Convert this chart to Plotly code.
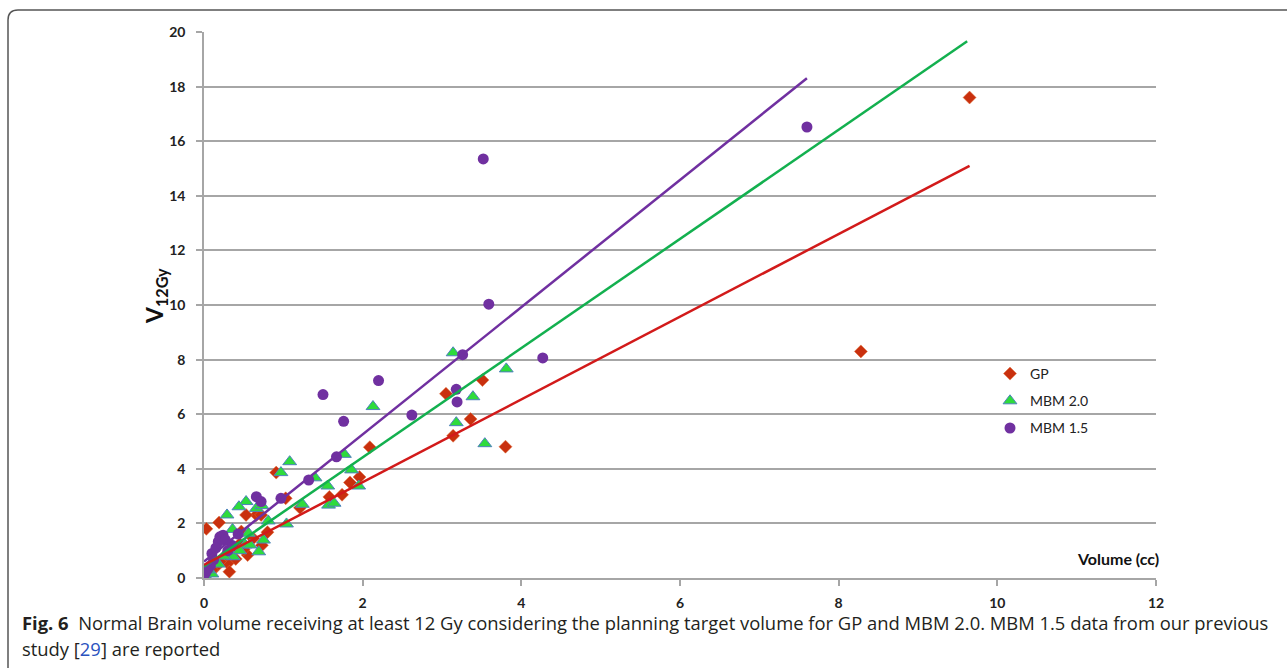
import plotly.graph_objects as go

# ---------------- data ----------------
gp_x = [9.65, 8.28, 3.80, 3.51, 3.05, 3.36, 3.14, 2.09, 1.96, 1.84, 1.74, 1.58, 1.03, 1.21,
        0.91, 0.80, 0.66, 0.72, 0.53, 0.19, 0.03, 0.47, 0.55, 0.73, 0.30, 0.32, 0.40, 0.15,
        0.10, 0.05, 0.28, 0.50, 0.35, 0.20, 0.62, 0.45]
gp_y = [17.60, 8.30, 4.81, 7.25, 6.75, 5.82, 5.21, 4.79, 3.70, 3.50, 3.05, 2.97, 2.92, 2.57,
        3.86, 1.68, 2.31, 2.31, 2.31, 2.03, 1.80, 1.70, 0.84, 1.20, 0.54, 0.23, 0.70, 0.40,
        0.30, 0.15, 0.85, 1.05, 0.95, 0.60, 1.45, 1.25]

mbm20_x = [3.14, 3.81, 3.39, 3.18, 3.54, 2.13, 1.77, 1.08, 0.97, 1.40, 1.86, 1.95, 1.56, 1.57,
           1.64, 1.24, 1.04, 0.81, 0.53, 0.44, 0.66, 0.73, 0.29, 0.36, 0.56, 0.75, 0.52, 0.58,
           0.69, 0.37, 0.18, 0.02, 0.10, 0.05, 0.25, 0.45]
mbm20_y = [8.25, 7.66, 6.64, 5.69, 4.92, 6.28, 4.53, 4.26, 3.86, 3.67, 3.96, 3.37, 3.37, 2.67,
           2.74, 2.70, 1.98, 2.09, 2.80, 2.61, 2.55, 2.65, 2.31, 1.78, 1.64, 1.39, 1.21, 1.21,
           0.96, 0.78, 0.51, 0.05, 0.15, 0.30, 0.80, 1.00]

mbm15_x = [7.60, 3.52, 3.59, 4.27, 3.26, 3.18, 3.19, 2.62, 2.20, 1.50, 1.76, 1.67, 1.32, 0.97,
           0.66, 0.72, 0.43, 0.20, 0.24, 0.18, 0.27, 0.12, 0.10, 0.05, 0.02, 0.08, 0.15, 0.30,
           0.35, 0.00, 0.04]
mbm15_y = [16.52, 15.35, 10.03, 8.06, 8.18, 6.91, 6.45, 5.97, 7.23, 6.72, 5.74, 4.44, 3.59, 2.92,
           2.98, 2.80, 1.61, 1.51, 1.57, 1.33, 1.39, 0.66, 0.90, 0.35, 0.20, 0.45, 1.10, 1.00,
           1.20, 0.10, 0.30]

# linear fits: slope, intercept, x-extent
fit_gp = {"slope": 1.515, "intercept": 0.48, "x_end": 9.65}
fit_mbm20 = {"slope": 2.00, "intercept": 0.42, "x_end": 9.62}
fit_mbm15 = {"slope": 2.33, "intercept": 0.60, "x_end": 7.60}

x_ticks = [0, 2, 4, 6, 8, 10, 12]
y_ticks = [0, 2, 4, 6, 8, 10, 12, 14, 16, 18, 20]

# ---------------- styles ----------------
RED_M = "#C9300E"
RED_L = "#D21A1A"
GREEN_M = "#2EDB3C"
GREEN_EDGE = "#4F81BD"
GREEN_L = "#13B04F"
PURPLE = "#7030A0"
GRID = "#A6A6A6"

W, H = 1287, 668
L, R, T, B = 204, 131, 32, 90
PW, PH = W - L - R, H - T - B


def px2x(px):
    return (px - L) / PW


def py2y(py):
    return (H - B - py) / PH


fig = go.Figure()

fig.add_trace(go.Scatter(x=gp_x, y=gp_y, mode="markers", name="GP", legendgroup="a",
                         marker=dict(symbol="diamond", size=10, color=RED_M,
                                     line=dict(width=0.5, color="#E0703A"))))
fig.add_trace(go.Scatter(x=mbm20_x, y=mbm20_y, mode="markers", name="MBM 2.0", legendgroup="b",
                         marker=dict(symbol="triangle-up", size=12, color=GREEN_M,
                                     line=dict(width=1, color=GREEN_EDGE))))
fig.add_trace(go.Scatter(x=mbm15_x, y=mbm15_y, mode="markers", name="MBM 1.5", legendgroup="c",
                         marker=dict(symbol="circle", size=11, color=PURPLE,
                                     line=dict(width=0))))

for fit, col in [(fit_mbm15, PURPLE), (fit_mbm20, GREEN_L), (fit_gp, RED_L)]:
    xs = [0, fit["x_end"]]
    ys = [fit["intercept"] + fit["slope"] * v for v in xs]
    fig.add_trace(go.Scatter(x=xs, y=ys, mode="lines", showlegend=False, hoverinfo="skip",
                             line=dict(color=col, width=2.5)))

tick_font = dict(family="Lato", size=14, color="#222222", weight="bold")

fig.update_xaxes(range=[0, 12], tickvals=x_ticks, showgrid=False, zeroline=False,
                 showline=True, linecolor=GRID, linewidth=1.5, ticks="outside", ticklen=6,
                 tickcolor=GRID, tickwidth=1.5, tickfont=tick_font, ticklabelstandoff=5)
fig.update_yaxes(range=[0, 20], tickvals=y_ticks, showgrid=True, gridcolor=GRID, gridwidth=1.5,
                 zeroline=False, showline=True, linecolor=GRID, linewidth=1.5, ticks="outside",
                 ticklen=6, tickcolor=GRID, tickwidth=1.5, tickfont=tick_font,
                 ticklabelstandoff=8)

caption_font = dict(family="Open Sans", size=18.4, color="#231F20")

fig.update_layout(
    width=W, height=H,
    margin=dict(l=L, r=R, t=T, b=B),
    paper_bgcolor="white", plot_bgcolor="white",
    legend=dict(x=px2x(990), y=py2y(358), xanchor="left", yanchor="top",
                bgcolor="rgba(0,0,0,0)", traceorder="grouped", tracegroupgap=6,
                font=dict(family="Lato", size=14, color="#222222")),
    annotations=[
        dict(text="<b>V<sub>12Gy</sub></b>", x=px2x(156), y=py2y(296), xref="paper", yref="paper",
             textangle=-90, showarrow=False, xanchor="center", yanchor="middle",
             font=dict(family="Lato", size=23, color="#111111")),
        dict(text="<b>Volume (cc)</b>", x=px2x(1118), y=py2y(558), xref="paper", yref="paper",
             showarrow=False, xanchor="center", yanchor="middle",
             font=dict(family="Lato", size=16, color="#111111")),
        dict(text="<b>Fig. 6</b>  Normal Brain volume receiving at least 12 Gy considering the planning "
                  "target volume for GP and MBM 2.0. MBM 1.5 data from our previous",
             x=px2x(20), y=py2y(622), xref="paper", yref="paper", showarrow=False,
             xanchor="left", yanchor="middle", font=caption_font),
        dict(text="study [<span style='color:#2A52BE'>29</span>] are reported",
             x=px2x(20), y=py2y(648), xref="paper", yref="paper", showarrow=False,
             xanchor="left", yanchor="middle", font=caption_font),
    ],
    shapes=[
        dict(type="path", xref="paper", yref="paper",
             path=f"M {px2x(8)},{py2y(668)} L {px2x(8)},{py2y(20)} "
                  f"Q {px2x(8)},{py2y(10)} {px2x(18)},{py2y(10)} L {px2x(1287)},{py2y(10)}",
             line=dict(color="#555555", width=1.5)),
    ],
)

fig.write_html("out.html")
